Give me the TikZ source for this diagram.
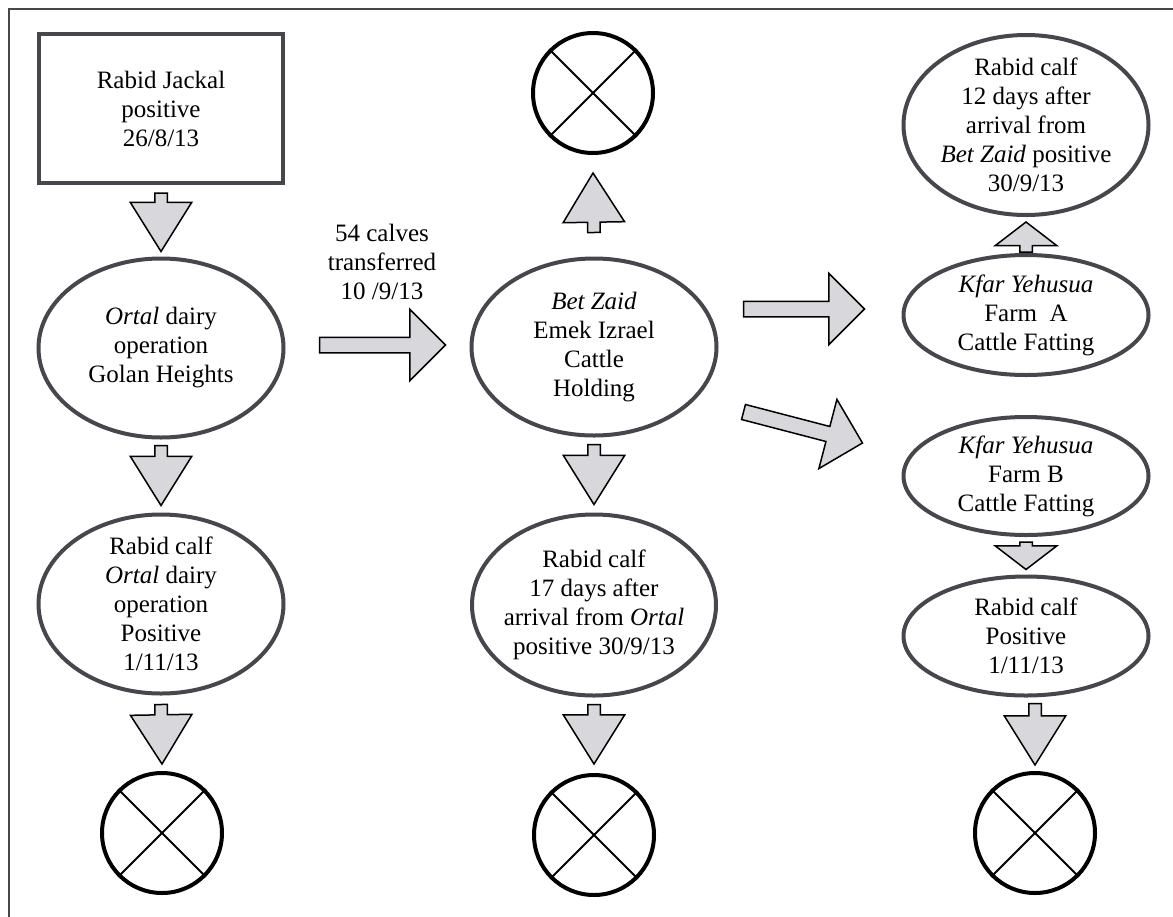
\documentclass[tikz,border=0pt]{standalone}
\usepackage{fontspec}
\setmainfont{Liberation Serif}
\usetikzlibrary{shapes,calc,positioning}

\definecolor{edgegrey}{RGB}{70,70,76}
\definecolor{arrowgrey}{RGB}{216,216,220}

\tikzset{
  site/.style={ellipse, draw=edgegrey, line width=2pt, inner sep=-8pt, align=center,
    minimum width=122.5pt, minimum height=89.5pt},
  farm/.style={site, minimum height=59.5pt},
  fatarr/.style={single arrow, draw=black, fill=arrowgrey, line width=0.75pt,
    single arrow head indent=0pt, inner xsep=0pt, minimum width=0pt, outer sep=0pt},
  vbig/.style={fatarr, inner ysep=2.75pt, single arrow head extend=12.25pt, single arrow tip angle=64},
  vsmall/.style={fatarr, inner ysep=2.75pt, single arrow head extend=12.25pt, single arrow tip angle=105},
  hbig/.style={fatarr, inner ysep=3.5pt, single arrow head extend=14pt, single arrow tip angle=90},
  endmark/.style={circle, draw=black, line width=2pt, minimum size=60pt, inner sep=0pt},
  xline/.style={black, line width=1pt},
}

% block arrow from tail point to tip point
\newcommand{\fatarrow}[3][vbig]{%
  \path let \p1=(#2), \p2=(#3), \n1={veclen(\x2-\x1,\y2-\y1)}, \n2={atan2(\y2-\y1,\x2-\x1)} in
    (\p1) node[#1, minimum height=\n1, rotate=\n2, anchor=tail] {};}

\begin{document}
\begin{tikzpicture}[x=0.5pt, y=-0.5pt, every node/.style={font=\fontsize{12.5}{14.5}\selectfont}]
  \useasboundingbox (0,0) rectangle (1173,916);
  \draw[edgegrey, line width=1pt] (9,930) -- (9,9) -- (1190,9);

  % Ortal column
  \node[draw=edgegrey, line width=2pt, minimum width=122pt, minimum height=74.5pt, align=center]
    (jackal) at (161,108.5) {Rabid Jackal\\positive\\26/8/13};
  \node[site] (ortal) at (161,348) {\textit{Ortal} dairy\\operation\\Golan Heights};
  \node[site] (calfortal) at (161,604) {Rabid calf\\\textit{Ortal} dairy\\operation\\Positive\\1/11/13};
  \node[endmark] (xortal) at (162,833) {};

  % Bet Zaid column
  \node[endmark] (xtop) at (593,93) {};
  \node[site, minimum width=122.5pt, minimum height=88.5pt] (betzaid) at (594,347)
    {\textit{Bet Zaid}\\Emek Izrael\\Cattle\\Holding};
  \node[site, minimum width=122pt, minimum height=90.5pt] (calfbet) at (594,605)
    {Rabid calf\\17 days after\\arrival from \textit{Ortal}\\positive 30/9/13};
  \node[endmark] (xbet) at (594,835) {};

  % Kfar Yehusua column
  \node[site, minimum height=90pt] (calfkfar) at (1026,125)
    {Rabid calf\\12 days after\\arrival from\\\textit{Bet Zaid} positive\\30/9/13};
  \node[farm, minimum height=60pt] (farma) at (1026,315) {\textit{Kfar Yehusua}\\Farm~~A\\Cattle Fatting};
  \node[farm, minimum height=59pt] (farmb) at (1026,476) {\textit{Kfar Yehusua}\\Farm B\\Cattle Fatting};
  \node[farm] (calffarmb) at (1026,636) {Rabid calf\\Positive\\1/11/13};
  \node[endmark] (xfarm) at (1035,833) {};

  \node[align=center] (transfer) at (382,262) {54 calves\\transferred\\10 /9/13};

  \foreach \c in {xortal,xtop,xbet,xfarm} {
    \draw[xline] (\c.45) -- (\c.225) (\c.135) -- (\c.315);
  }

  \fatarrow{$(jackal.south)+(0,8)$}{$(ortal.north)+(0,-5)$}
  \fatarrow{$(ortal.south)+(0,6)$}{$(calfortal.north)+(0,-7)$}
  \fatarrow{$(calfortal.south)+(0,9)$}{$(xortal.north)+(0,-7)$}
  \fatarrow[hbig]{$(ortal.east)+(34,-3)$}{$(betzaid.west)+(-24,-2)$}
  \fatarrow{$(betzaid.north)+(0,-24)$}{$(xtop.south)+(0,18)$}
  \fatarrow{$(betzaid.south)+(0,7)$}{$(calfbet.north)+(0,-8)$}
  \fatarrow{$(calfbet.south)+(0,7)$}{$(xbet.north)+(0,-9)$}
  \fatarrow[hbig]{$(betzaid.east)+(25,-38)$}{$(farma.west)+(-37,-6)$}
  \fatarrow[hbig]{$(betzaid.east)+(25,65)$}{$(farmb.west)+(-39,-33)$}
  \fatarrow[vsmall]{$(farma.north)+(0,-1)$}{$(calfkfar.south)+(0,5)$}
  \fatarrow[vsmall]{$(farmb.south)+(0,5)$}{$(calffarmb.north)+(0,-5)$}
  \fatarrow{$(calffarmb.south -| xfarm.north)+(0,6)$}{$(xfarm.north)+(0,-6)$}
\end{tikzpicture}
\end{document}
